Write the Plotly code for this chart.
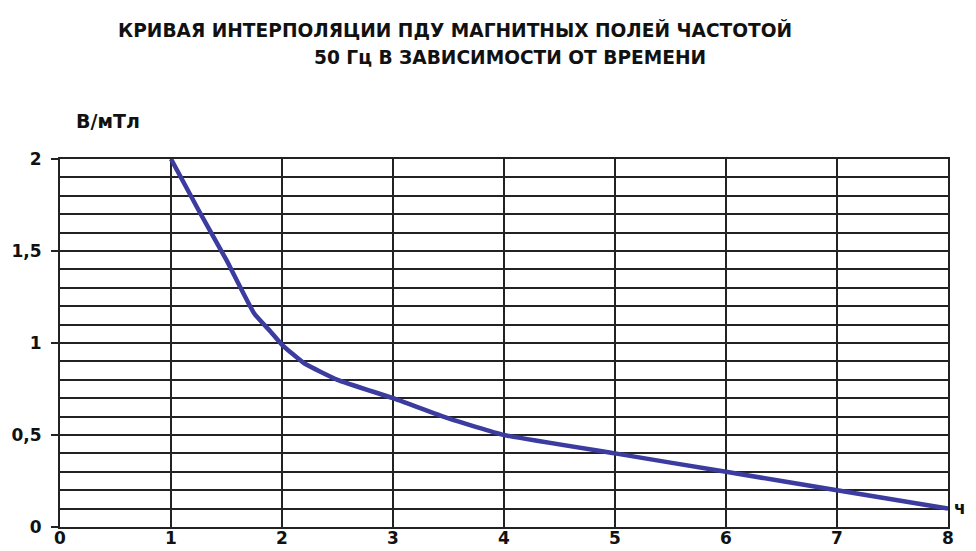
import plotly.graph_objects as go

hours = [1, 1.25, 1.5, 1.75, 1.9, 2, 2.2, 2.5, 3, 3.5, 4, 5, 6, 7, 8]
induction = [2, 1.72, 1.45, 1.16, 1.06, 0.99, 0.89, 0.8, 0.7, 0.59, 0.5, 0.4, 0.3, 0.2, 0.1]
x_ticks = [0, 1, 2, 3, 4, 5, 6, 7, 8]
y_ticks = [0, 0.5, 1, 1.5, 2]
y_tick_text = ["0", "0,5", "1", "1,5", "2"]

title_1 = "КРИВАЯ ИНТЕРПОЛЯЦИИ ПДУ МАГНИТНЫХ ПОЛЕЙ ЧАСТОТОЙ"
title_2 = "50 Гц В ЗАВИСИМОСТИ ОТ ВРЕМЕНИ"

FONT = "DejaVu Sans, sans-serif"

fig = go.Figure()
fig.add_trace(go.Scatter(
    x=hours, y=induction, mode="lines",
    line=dict(color="#3b3ba0", width=4.5, shape="spline", smoothing=0.4),
    showlegend=False, hoverinfo="skip",
))

fig.update_layout(
    width=968, height=543,
    margin=dict(l=52, r=28, t=151, b=24, autoexpand=False),
    paper_bgcolor="white", plot_bgcolor="white",
    font=dict(family=FONT, size=15, color="#111"),
    xaxis=dict(
        range=[0, 8], tickvals=x_ticks, ticktext=[f"<b>{v}</b>" for v in x_ticks],
        showgrid=True, gridcolor="#222", gridwidth=1.5, automargin=False,
        zeroline=False, showline=True, linecolor="#222", linewidth=2, mirror=True,
        ticks="", tickfont=dict(size=17), ticklabelstandoff=-5,
        fixedrange=True,
    ),
    yaxis=dict(
        range=[0, 2], tickvals=y_ticks, ticktext=[f"<b>{t}</b>" for t in y_tick_text],
        showgrid=True, gridcolor="#222", gridwidth=1.5, automargin=False,
        minor=dict(dtick=0.1, showgrid=True, gridcolor="#222", gridwidth=1.5),
        zeroline=False, showline=True, linecolor="#222", linewidth=2, mirror=True,
        ticks="outside", ticklen=7, tickwidth=1.5, tickcolor="#222",
        tickfont=dict(size=17), ticklabelstandoff=6,
        fixedrange=True,
    ),
    annotations=[
        dict(text=f"<b>{title_1}</b>", xref="paper", yref="paper", x=0.445, y=1.351,
             showarrow=False, xanchor="center", yanchor="middle", font=dict(size=18.6)),
        dict(text=f"<b>{title_2}</b>", xref="paper", yref="paper", x=0.507, y=1.275,
             showarrow=False, xanchor="center", yanchor="middle", font=dict(size=18.6)),
        dict(text="<b>В/мТл</b>", xref="paper", yref="paper", x=0.054, y=1.104,
             showarrow=False, xanchor="center", yanchor="middle", font=dict(size=19)),
        dict(text="<b>ч</b>", xref="paper", yref="paper", x=1.0135, y=0.052,
             showarrow=False, xanchor="center", yanchor="middle", font=dict(size=17)),
    ],
)

fig.write_html("out.html")
